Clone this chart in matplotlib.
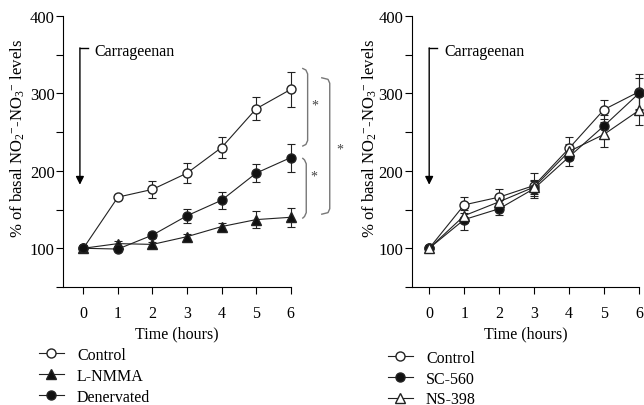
import matplotlib
matplotlib.use('Agg')
import matplotlib.pyplot as plt
from matplotlib.lines import Line2D

plt.rcParams['font.family'] = ['Liberation Serif', 'DejaVu Serif']
plt.rcParams['mathtext.fontset'] = 'custom'
plt.rcParams['mathtext.rm'] = 'Liberation Serif'
plt.rcParams['mathtext.it'] = 'Liberation Serif:italic'
plt.rcParams['font.size'] = 11.5

# donnees
heures = [0, 1, 2, 3, 4, 5, 6]

ctrl_g = [100, 166, 176, 197, 230, 280, 305]
ctrl_g_err = [3, 3, 11, 13, 14, 15, 23]
lnmma = [100, 106, 105, 115, 128, 137, 140]
lnmma_err = [2, 3, 3, 4, 5, 11, 12]
denerv = [100, 99, 117, 142, 162, 197, 217]
denerv_err = [2, 3, 4, 9, 11, 12, 18]

ctrl_d = [100, 156, 166, 181, 229, 279, 302]
ctrl_d_err = [3, 10, 11, 16, 15, 12, 23]
sc560 = [100, 137, 151, 177, 218, 258, 300]
sc560_err = [3, 13, 8, 10, 12, 14, 20]
ns398 = [100, 142, 160, 179, 225, 247, 278]
ns398_err = [3, 10, 9, 9, 10, 16, 19]

yticks = [50, 100, 150, 200, 250, 300, 350, 400]
ylabels = ['', '100', '', '200', '', '300', '', '400']
ylab = r'% of basal NO$_{2}{}^{-}$-NO$_{3}{}^{-}$ levels'

fig = plt.figure(figsize=(6.44, 4.06), dpi=100)
ax1 = fig.add_axes([0.0978, 0.2906, 0.3536, 0.668])
ax2 = fig.add_axes([0.6393, 0.2906, 0.3529, 0.668])


def serie(ax, y, err, marker, fc, label, ms=6.5):
    ax.errorbar(heures, y, yerr=err, color='#222222', lw=0.8, marker=marker,
                mfc=fc, mec='#222222', ms=ms, capsize=3, elinewidth=0.8,
                capthick=0.8, clip_on=False, zorder=3)
    return Line2D([], [], color='#222222', lw=0.8, marker=marker, mfc=fc,
                  mec='#222222', ms=ms, label=label)


def habillage(ax, xmin):
    ax.set_xlim(xmin, 6)
    ax.set_ylim(50, 400)
    ax.set_xticks(heures)
    ax.set_yticks(yticks)
    ax.set_yticklabels(ylabels)
    ax.spines['top'].set_visible(False)
    ax.spines['right'].set_visible(False)
    ax.tick_params(direction='out', length=5, width=0.8)
    ax.tick_params(axis='x', pad=8)
    ax.tick_params(axis='y', pad=1, labelsize=12)
    ax.set_xlabel('Time (hours)', labelpad=3)
    ax.set_ylabel(ylab, fontsize=12)


h1 = [serie(ax1, ctrl_g, ctrl_g_err, 'o', 'white', 'Control'),
      serie(ax1, lnmma, lnmma_err, '^', '#111111', 'L-NMMA'),
      serie(ax1, denerv, denerv_err, 'o', '#111111', 'Denervated')]
habillage(ax1, -0.59)
ax1.yaxis.set_label_coords(-0.157, 0.55)

h2 = [serie(ax2, ctrl_d, ctrl_d_err, 'o', 'white', 'Control'),
      serie(ax2, sc560, sc560_err, 'o', '#111111', 'SC-560'),
      serie(ax2, ns398, ns398_err, '^', 'white', 'NS-398')]
habillage(ax2, -0.5)
ax2.yaxis.set_label_coords(-0.143, 0.55)

# fleche Carrageenan
for ax, xa in [(ax1, -0.1), (ax2, 0.0)]:
    ax.annotate('', xy=(xa, 182), xytext=(xa, 358.6),
                arrowprops=dict(arrowstyle='-|>', color='k', lw=1,
                                mutation_scale=12, shrinkA=0, shrinkB=0))
    ax.plot([xa, xa + 0.23], [358.6, 358.6], color='k', lw=1)
    ax.text(xa + 0.43, 354, 'Carrageenan', va='center', ha='left')

# accolades de significativite
gris = '#777777'


def accolade(ax, x0, x1, ybas, yhaut):
    xs = [x0, x1 - 0.05, x1, x1, x1 - 0.05, x0]
    ys = [yhaut, yhaut - 2, yhaut - 7, ybas + 7, ybas + 2, ybas]
    ax.plot(xs, ys, color=gris, lw=1, clip_on=False)


accolade(ax1, 6.35, 6.49, 232, 332)
accolade(ax1, 6.35, 6.45, 139, 216)
accolade(ax1, 6.9, 7.13, 144, 320)
for xs, ys in [(6.69, 285), (6.66, 193), (7.42, 228)]:
    ax1.text(xs, ys, '*', ha='center', va='center', color='#444444',
             fontsize=10, clip_on=False)

for ax, hs, x, y in [(ax1, h1, 0.06, 0.143), (ax2, h2, 0.602, 0.136)]:
    ax.legend(handles=hs, loc='upper left', bbox_to_anchor=(x, y),
              bbox_transform=fig.transFigure, frameon=False, handlelength=1.6,
              handletextpad=0.8, labelspacing=0.3, borderpad=0,
              borderaxespad=0, numpoints=1)

fig.savefig('out.png', dpi=100)
